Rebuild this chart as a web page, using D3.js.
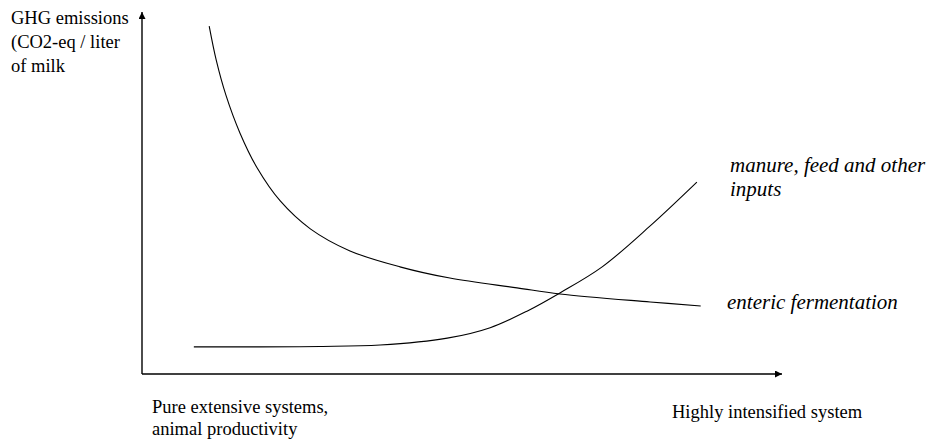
<!DOCTYPE html>
<html>
<head>
<meta charset="utf-8">
<script src="https://cdn.jsdelivr.net/npm/d3@7"></script>
<style>
  html, body { margin:0; padding:0; background:#fff; }
  svg { display:block; }
</style>
</head>
<body>
<svg id="chart" width="932" height="439"></svg>
<script>
// conceptual curves (arbitrary 0-100 units)
const entericX = [10.5, 11.6, 13.1, 15.3, 18.0, 21.6, 26.3, 32.5, 40.3, 48.1, 58.6, 65.3, 79.4, 87.3];
const entericY = [96.1, 86.7, 77.1, 66.6, 56.9, 47.8, 40.1, 34.0, 29.6, 26.5, 23.8, 22.1, 19.9, 18.8];
const manureX = [8.1, 18.4, 27.8, 37.2, 47.7, 54.4, 60.3, 65.3, 71.9, 79.4, 86.7];
const manureY = [7.5, 7.5, 7.6, 8.0, 9.9, 12.8, 17.5, 22.4, 29.6, 40.9, 53.0];

const yTitle = ["GHG emissions", "(CO2-eq / liter", "of milk"];
const xLeftLabel = ["Pure extensive systems,", "animal productivity"];
const xRightLabel = ["Highly intensified system"];
const manureLabel = ["manure, feed and other", "inputs"];
const entericLabel = ["enteric fermentation"];

const FONT = "'Liberation Serif', Tinos, 'Times New Roman', 'DejaVu Serif', serif";

const svg = d3.select("#chart");
const x = d3.scaleLinear().domain([0, 100]).range([142, 782]);
const y = d3.scaleLinear().domain([0, 100]).range([374, 12]);

svg.append("defs").append("marker")
  .attr("id","arrow").attr("viewBox","0 0 10 10").attr("refX","10").attr("refY","5")
  .attr("markerWidth","5").attr("markerHeight","5").attr("markerUnits","strokeWidth")
  .attr("orient","auto")
  .append("path").attr("d","M 0 0 L 10 5 L 0 10 z").attr("fill","#000");

// axes (no ticks, just arrows)
const axes = svg.append("g").attr("stroke","#000").attr("stroke-width",1.4);
axes.append("line").attr("x1", x(0)).attr("y1", y(0)).attr("x2", x(0)).attr("y2", y(100))
  .attr("marker-end","url(#arrow)");
axes.append("line").attr("x1", x(0)).attr("y1", y(0)).attr("x2", x(100)).attr("y2", y(0))
  .attr("marker-end","url(#arrow)");

// curves
const line = d3.line().x(d => x(d[0])).y(d => y(d[1])).curve(d3.curveCatmullRom.alpha(0.5));
const series = [d3.zip(entericX, entericY), d3.zip(manureX, manureY)];
svg.append("g").attr("fill","none").attr("stroke","#000").attr("stroke-width",1.1)
  .selectAll("path").data(series).enter().append("path").attr("d", line);

// labels
function lines(arr, x0, y0, dy, size, italic) {
  const t = svg.append("text").attr("x", x0).attr("y", y0)
    .attr("font-family", FONT).attr("font-size", size)
    .attr("font-style", italic ? "italic" : "normal").attr("fill","#000");
  t.selectAll("tspan").data(arr).enter().append("tspan")
    .attr("x", x0).attr("dy", (d, i) => i ? dy : 0).text(d => d);
}
lines(yTitle, 11, 24, 24, 18.5, false);
lines(xLeftLabel, 152, 413, 22, 18.5, false);
lines(xRightLabel, 672, 418, 0, 18.5, false);
lines(manureLabel, 730, 172, 24, 21, true);
lines(entericLabel, 727, 309, 0, 21, true);
</script>
</body>
</html>
